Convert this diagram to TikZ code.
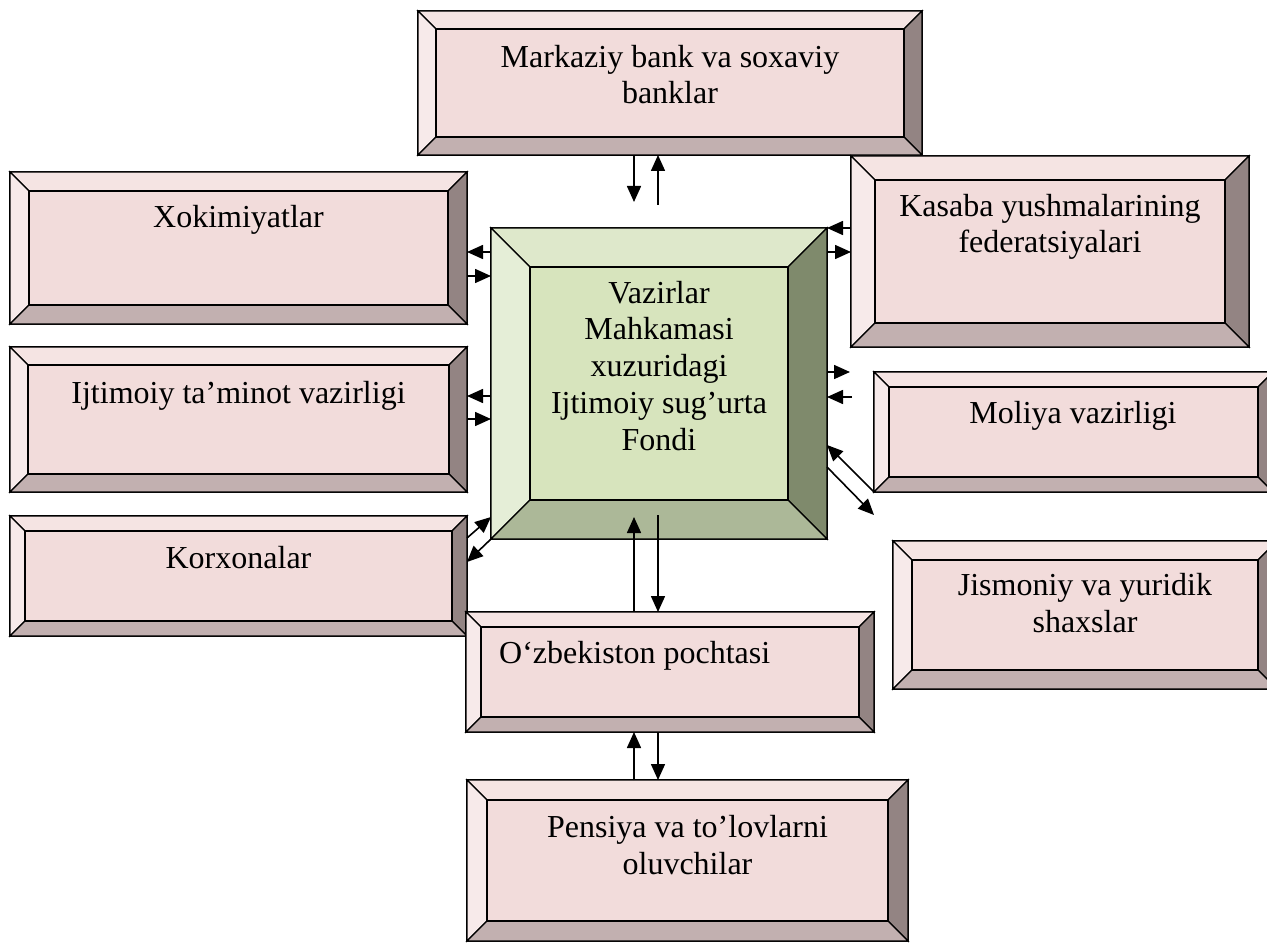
\documentclass[tikz,border=0pt]{standalone}
\usepackage{fontspec}
\setmainfont{Liberation Serif}
\usetikzlibrary{calc,arrows.meta}

% pink bevel palette
\definecolor{pkface}{HTML}{F2DCDB}
\definecolor{pktop}{HTML}{F5E4E3}
\definecolor{pkleft}{HTML}{F7EAEA}
\definecolor{pkright}{HTML}{938483}
\definecolor{pkbot}{HTML}{C2B0B0}
% green bevel palette
\definecolor{gnface}{HTML}{D7E4BD}
\definecolor{gntop}{HTML}{DEE8CB}
\definecolor{gnleft}{HTML}{E5EED7}
\definecolor{gnright}{HTML}{7F8A6C}
\definecolor{gnbot}{HTML}{ACB898}

% faces of a bevelled box: #1 node name, #2 bevel size (pt), #3 palette prefix
\newcommand\bevelfaces[3]{%
  \coordinate (#1-i1) at ($(#1.north west)+(#2pt,-#2pt)$);
  \coordinate (#1-i2) at ($(#1.north east)+(-#2pt,-#2pt)$);
  \coordinate (#1-i3) at ($(#1.south east)+(-#2pt,#2pt)$);
  \coordinate (#1-i4) at ($(#1.south west)+(#2pt,#2pt)$);
  \filldraw[face, fill=#3top] (#1.north west) -- (#1.north east) -- (#1-i2) -- (#1-i1) -- cycle;
  \filldraw[face, fill=#3left] (#1.north west) -- (#1-i1) -- (#1-i4) -- (#1.south west) -- cycle;
  \filldraw[face, fill=#3right] (#1.north east) -- (#1.south east) -- (#1-i3) -- (#1-i2) -- cycle;
  \filldraw[face, fill=#3bot] (#1.south west) -- (#1-i4) -- (#1-i3) -- (#1.south east) -- cycle;
  \draw[face] (#1-i1) rectangle (#1-i3);
}

\begin{document}
\begin{tikzpicture}[x=1pt, y=-1pt,
  face/.style={draw=black, line width=1.3pt, line join=miter},
  pinkbox/.style={rectangle, draw=black, line width=1.3pt, fill=pkface,
    inner sep=0pt, outer sep=0pt, anchor=north west},
  greenbox/.style={pinkbox, fill=gnface},
  lbl/.style={inner sep=0pt, align=center, font=\fontsize{32}{36.7}\selectfont},
  arr/.style={line width=1.6pt, -{Triangle[length=16pt, width=14pt]}}]

\useasboundingbox (0,0) rectangle (1267,944);

% boxes
\node[pinkbox, minimum width=504pt, minimum height=144pt] (bank) at (418,11) {};
\bevelfaces{bank}{18}{pk}
\node[pinkbox, minimum width=457pt, minimum height=152pt] (xok) at (10,172) {};
\bevelfaces{xok}{19}{pk}
\node[pinkbox, minimum width=398pt, minimum height=191pt] (kasaba) at (851,156) {};
\bevelfaces{kasaba}{24}{pk}
\node[greenbox, minimum width=336pt, minimum height=311pt] (fond) at (491,228) {};
\bevelfaces{fond}{39}{gn}
\node[pinkbox, minimum width=457pt, minimum height=145pt] (ijt) at (10,347) {};
\bevelfaces{ijt}{18}{pk}
\node[pinkbox, minimum width=399pt, minimum height=120pt] (moliya) at (874,372) {};
\bevelfaces{moliya}{15}{pk}
\node[pinkbox, minimum width=457pt, minimum height=120pt] (korx) at (10,516) {};
\bevelfaces{korx}{15}{pk}
\node[pinkbox, minimum width=384pt, minimum height=148pt] (jism) at (893,541) {};
\bevelfaces{jism}{19}{pk}
\node[pinkbox, minimum width=408pt, minimum height=120pt] (pochta) at (466,612) {};
\bevelfaces{pochta}{15}{pk}
\node[pinkbox, minimum width=441pt, minimum height=161pt] (pensiya) at (467,780) {};
\bevelfaces{pensiya}{20}{pk}

% labels (base anchor = baseline of the last line)
\node[lbl, anchor=base] (bank-t) at (670,104) {Markaziy bank va soxaviy\\banklar};
\node[lbl, anchor=base] (xok-t) at (238.5,228) {Xokimiyatlar};
\node[lbl, anchor=base] (kasaba-t) at (1050,253) {Kasaba yushmalarining\\federatsiyalari};
\node[lbl, anchor=base] (fond-t) at (659,450) {Vazirlar\\Mahkamasi\\xuzuridagi\\Ijtimoiy sug’urta\\Fondi};
\node[lbl, anchor=base] (ijt-t) at (238.5,403) {Ijtimoiy ta’minot vazirligi};
\node[lbl, anchor=base] (moliya-t) at (1073,423) {Moliya vazirligi};
\node[lbl, anchor=base] (korx-t) at (238.5,568) {Korxonalar};
\node[lbl, anchor=base] (jism-t) at (1085,632) {Jismoniy va yuridik\\shaxslar};
\node[lbl, anchor=base west] (pochta-t) at (499,663) {O‘zbekiston pochtasi};
\node[lbl, anchor=base] (pensiya-t) at (687.5,874) {Pensiya va to’lovlarni\\oluvchilar};

% reference rows, columns and free ends of the connectors
\coordinate (r228) at (0,228);
\coordinate (r252) at (0,252);
\coordinate (r276) at (0,276);
\coordinate (r396) at (0,396);
\coordinate (r419) at (0,419);
\coordinate (r445) at (0,445);
\coordinate (r467) at (0,467);
\coordinate (r517) at (0,517);
\coordinate (r538) at (0,538);
\coordinate (r562) at (0,562);
\coordinate (cL) at (634,0);
\coordinate (cR) at (658,0);
\coordinate (bankdown) at (634,202);
\coordinate (bankup) at (658,205);
\coordinate (molout) at (850,372);
\coordinate (molin) at (852,397);
\coordinate (jisout) at (874,515);
\coordinate (fondin) at (634,517);
\coordinate (fondout) at (658,515);

% central fund <-> banks
\draw[arr] (bank.south -| cL) -- (bankdown);
\draw[arr] (bankup) -- (bank.south -| cR);

% left side
\draw[arr] (fond.west |- r252) -- (xok.east |- r252);
\draw[arr] (xok.east |- r276) -- (fond.west |- r276);
\draw[arr] (fond.west |- r396) -- (ijt.east |- r396);
\draw[arr] (ijt.east |- r419) -- (fond.west |- r419);
\draw[arr] (korx.east |- r538) -- (fond.west |- r517);
\draw[arr] (fond.south west) -- (korx.east |- r562);

% right side
\draw[arr] (kasaba.west |- r228) -- (fond.east |- r228);
\draw[arr] (fond.east |- r252) -- (kasaba.west |- r252);
\draw[arr] (fond.east |- molout) -- (molout);
\draw[arr] (molin) -- (fond.east |- molin);
\draw[arr] (moliya.south west) -- (fond.east |- r445);
\draw[arr] (fond.east |- r467) -- (jisout);

% bottom chain
\draw[arr] (pochta.north -| cL) -- (fondin);
\draw[arr] (fondout) -- (pochta.north -| cR);
\draw[arr] (pensiya.north -| cL) -- (pochta.south -| cL);
\draw[arr] (pochta.south -| cR) -- (pensiya.north -| cR);

\end{tikzpicture}
\end{document}
